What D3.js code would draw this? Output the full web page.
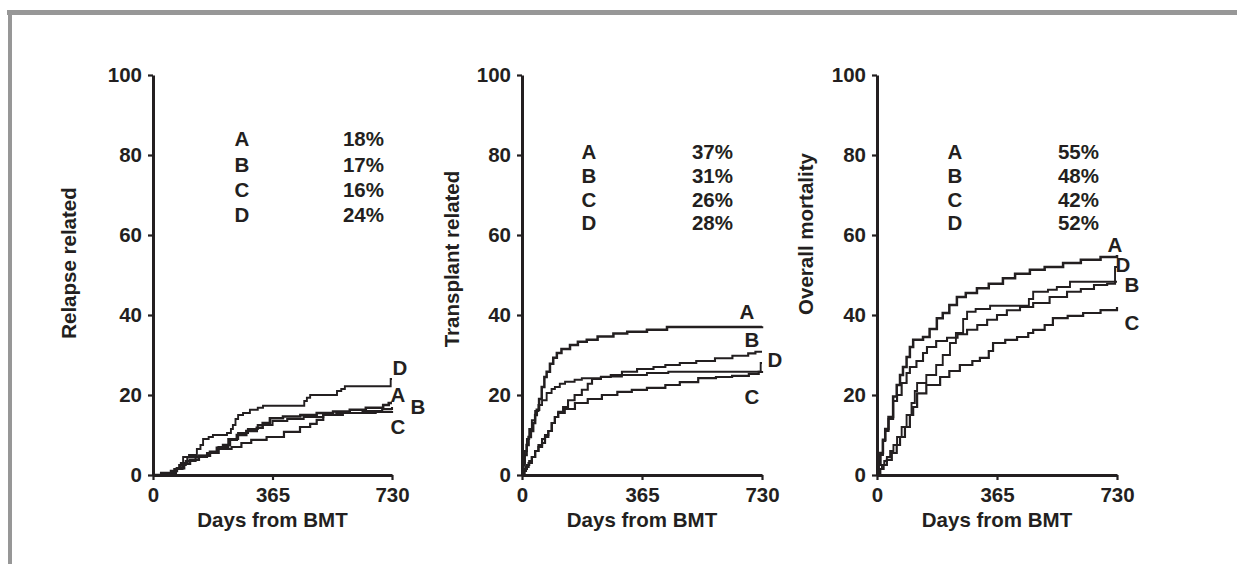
<!DOCTYPE html>
<html>
<head>
<meta charset="utf-8">
<script src="https://cdn.jsdelivr.net/npm/d3@7/dist/d3.min.js"></script>
<style>
  body { margin: 0; background: #fff; }
  svg text { font-family: "Liberation Sans", Arial, sans-serif; font-weight: bold; fill: #231f20; }
</style>
</head>
<body>
<div class="chart"></div>
<script>
// ---- Data ----
var dayTicks = [0, 365, 730];
var pctTicks = [0, 20, 40, 60, 80, 100];
var groups = ["A", "B", "C", "D"];
var panelTitles = ["Relapse related", "Transplant related", "Overall mortality"];
var xTitle = "Days from BMT";

// cumulative incidence, [day, %]
var relapseA = [[0,0],[25,0.5],[55,1],[73,1.7],[95,2.8],[113,3.8],[140,4.8],[174,5.8],[195,6.8],[214,7.5],[235,8.8],[256,10],[285,11],[317,11.8],[335,13],[357,14.2],[397,14.6],[450,15],[500,15.5],[550,15.9],[601,16.3],[650,16.8],[703,17.5],[720,18],[730,18]];
var relapseB = [[0,0],[40,0.5],[65,1.5],[80,2.5],[100,3.5],[130,4.5],[165,5.5],[200,7],[230,9],[260,10.5],[290,11.5],[320,12.5],[365,13.5],[410,14],[460,14.5],[520,15],[580,15.5],[640,16],[700,16.5],[730,17]];
var relapseC = [[0,0],[45,0.5],[70,1.5],[90,3],[105,4.5],[120,4.5],[140,4.8],[170,5.5],[200,6.5],[240,7],[270,8],[300,8.8],[347,9.5],[400,10.8],[449,12],[480,12.8],[500,13.8],[520,15],[560,15.5],[620,15.5],[680,15.8],[730,16]];
var relapseD = [[0,0],[30,0.5],[55,1],[73,1.5],[85,3],[92,4.5],[110,5],[134,6.5],[145,7.5],[153,9],[170,9.5],[183,10],[226,10.5],[238,11.5],[244,12.5],[252,14],[260,15],[275,15.5],[296,16.3],[320,16.8],[336,17.3],[458,17.3],[462,18.5],[470,19.3],[480,20],[556,20],[562,21],[575,21.5],[586,22.2],[724,22.2],[726,24],[730,24]];

var transplantA = [[0,0],[4,2.5],[8,5],[14,7.5],[20,9.5],[27,11],[34,13],[40,15],[45,16.3],[52,19],[60,22],[68,24.5],[75,25.8],[85,27.8],[95,29.3],[106,30.5],[120,31.5],[146,32.5],[170,33.3],[197,33.8],[230,34.6],[278,35.4],[320,35.8],[380,36.3],[441,37],[730,37.2]];
var transplantB = [[0,0],[8,1.5],[15,2.5],[22,3.5],[30,4.5],[40,6],[50,7.5],[61,9],[70,10],[80,11],[90,13],[100,14.5],[110,15.8],[125,17],[140,18.7],[160,20],[182,21.3],[200,22.8],[213,24],[240,24.5],[270,25],[304,25.8],[350,26.5],[400,27],[436,27.5],[480,28],[530,28.5],[587,29.2],[640,29.8],[688,30.4],[710,30.8],[730,30.8]];
var transplantC = [[0,0],[6,1],[12,2],[20,3],[30,4.5],[40,6],[50,7],[61,8],[70,9.5],[80,11],[91,13],[100,14.5],[110,15.5],[130,16.5],[161,18],[200,19],[243,20],[290,20.8],[334,21.3],[380,21.8],[436,22.5],[480,23.2],[536,24.2],[590,24.5],[639,24.8],[690,25.3],[720,25.8],[730,26]];
var transplantD = [[0,0],[4,3],[9,6],[15,9],[22,11.5],[30,13.7],[40,16],[50,17.5],[61,18.7],[75,20.5],[90,21.5],[100,22],[115,22.8],[131,23.3],[160,23.8],[182,24.2],[240,24.6],[304,25],[380,25.5],[445,25.8],[724,25.8],[726,28],[730,28]];

var mortalityA = [[0,0],[5,3],[10,5.5],[18,8.8],[25,11.5],[35,14.5],[49,19.6],[60,22.5],[70,25],[79,27],[90,29.5],[100,32],[110,33.8],[140,34.5],[160,36.5],[182,39.2],[200,40.5],[220,42.5],[243,44.5],[270,45.5],[304,46.7],[340,47.8],[383,49.2],[420,50.3],[465,51.3],[510,52],[566,53],[620,53.8],[680,54.5],[730,55]];
var mortalityB = [[0,0],[5,2.5],[10,5],[18,8.5],[25,11],[35,14],[49,18.5],[61,20],[75,23],[90,25.5],[100,27],[120,28.5],[140,30.5],[152,32],[180,33.5],[213,34.3],[245,35.2],[274,36.3],[305,37.5],[335,38.8],[365,40],[395,41.2],[435,42],[475,43],[525,44.5],[578,45.8],[620,46.5],[660,47.5],[700,47.8],[724,48.3],[730,48.3]];
var mortalityC = [[0,0],[10,1.5],[20,2.5],[30,3.8],[45,5.5],[60,7.5],[70,9.5],[85,12],[100,15],[110,17],[122,20.4],[150,22.5],[192,24.5],[220,26],[252,27.5],[290,28.5],[313,29.3],[340,31],[353,33],[390,33.8],[426,34.5],[460,35.5],[475,36.3],[510,37.5],[535,39.2],[580,39.8],[627,40.5],[680,41.2],[730,42]];
var mortalityD = [[0,0],[8,1.5],[15,2.5],[22,3.5],[30,4.5],[40,6],[50,7.5],[61,9.5],[75,12],[90,15],[105,18],[115,21],[122,23],[150,25],[180,27.5],[200,30],[222,33],[240,35.5],[262,39],[274,40.8],[300,41.5],[344,42.3],[456,42.3],[462,44],[475,45.8],[520,46.3],[547,47],[587,48.3],[720,48.3],[724,52],[730,52]];

var relapsePct = ["18%", "17%", "16%", "24%"];
var transplantPct = ["37%", "31%", "26%", "28%"];
var mortalityPct = ["55%", "48%", "42%", "52%"];

// ---- Layout ----
var svgWidth = 1237;
var svgHeight = 564;
var fontSize = 20.5;
var ink = "#231f20";

var panels = [
  { title: panelTitles[0], series: [relapseA, relapseB, relapseC, relapseD], pct: relapsePct,
    x0: 153, x1: 392, titleX: 69, titleY: 263, letterX: 242, pctX: 384, rowY: 139, rowStep: 25.3,
    ends: [[398, 395], [418, 407], [398, 427], [400, 368]] },
  { title: panelTitles[1], series: [transplantA, transplantB, transplantC, transplantD], pct: transplantPct,
    x0: 522, x1: 762, titleX: 452, titleY: 259, letterX: 589, pctX: 733, rowY: 152, rowStep: 23.7,
    ends: [[747, 312], [752, 340], [752, 397], [775, 360]] },
  { title: panelTitles[2], series: [mortalityA, mortalityB, mortalityC, mortalityD], pct: mortalityPct,
    x0: 877, x1: 1117, titleX: 806, titleY: 234, letterX: 955, pctX: 1099, rowY: 152, rowStep: 23.7,
    ends: [[1115, 245], [1132, 285], [1132, 323], [1123, 265]] }
];
var yTop = 75, yBottom = 475;
var lineWidths = [2.5, 2.1, 2.2, 1.9];

var svg = d3.select(".chart")
  .append("svg")
  .attr("width", svgWidth)
  .attr("height", svgHeight);

// frame (grey bars top and left)
svg.append("rect").attr("x", 7).attr("y", 10).attr("width", svgWidth - 7).attr("height", 5).attr("fill", "#979797");
svg.append("rect").attr("x", 8).attr("y", 10).attr("width", 4).attr("height", svgHeight - 10).attr("fill", "#979797");

panels.forEach(function(p) {
  var x = d3.scaleLinear().domain([0, 730]).range([p.x0, p.x1]);
  var y = d3.scaleLinear().domain([0, 100]).range([yBottom, yTop]);

  var g = svg.append("g");

  // curves
  var line = d3.line()
    .x(d => x(d[0]))
    .y(d => y(d[1]))
    .curve(d3.curveStepAfter);

  p.series.forEach(function(s, i) {
    g.append("path")
      .attr("d", line(s))
      .attr("fill", "none")
      .attr("stroke", ink)
      .attr("stroke-width", lineWidths[i]);
  });

  // axes
  var yAxis = d3.axisLeft(y).tickValues(pctTicks).tickSize(5).tickSizeOuter(0).tickPadding(6);
  var xAxis = d3.axisBottom(x).tickValues(dayTicks).tickSize(5).tickSizeOuter(0).tickPadding(7);

  var ya = g.append("g").attr("transform", `translate(${p.x0}, 0)`).call(yAxis);
  var xa = g.append("g").attr("transform", `translate(0, ${yBottom})`).call(xAxis);

  [ya, xa].forEach(function(a) {
    a.select(".domain").attr("stroke", ink).attr("stroke-width", 3);
    a.selectAll(".tick line").attr("stroke", ink).attr("stroke-width", 2.2);
    a.selectAll(".tick text").style("font-size", fontSize + "px").attr("fill", ink);
  });

  // axis titles
  g.append("text")
    .attr("transform", `translate(${p.titleX + 7.3}, ${p.titleY}) rotate(-90)`)
    .attr("text-anchor", "middle")
    .style("font-size", fontSize + "px")
    .text(p.title);

  g.append("text")
    .attr("x", (p.x0 + p.x1) / 2)
    .attr("y", 527)
    .attr("text-anchor", "middle")
    .style("font-size", fontSize + "px")
    .text(xTitle);

  // legend table
  groups.forEach(function(gr, i) {
    var ty = p.rowY + i * p.rowStep + 7.3;
    g.append("text")
      .attr("x", p.letterX).attr("y", ty)
      .attr("text-anchor", "middle")
      .style("font-size", fontSize + "px")
      .text(gr);
    g.append("text")
      .attr("x", p.pctX).attr("y", ty)
      .attr("text-anchor", "end")
      .style("font-size", fontSize + "px")
      .text(p.pct[i]);
  });

  // curve end labels
  groups.forEach(function(gr, i) {
    g.append("text")
      .attr("x", p.ends[i][0]).attr("y", p.ends[i][1] + 7.3)
      .attr("text-anchor", "middle")
      .style("font-size", fontSize + "px")
      .text(gr);
  });
});
</script>
</body>
</html>
